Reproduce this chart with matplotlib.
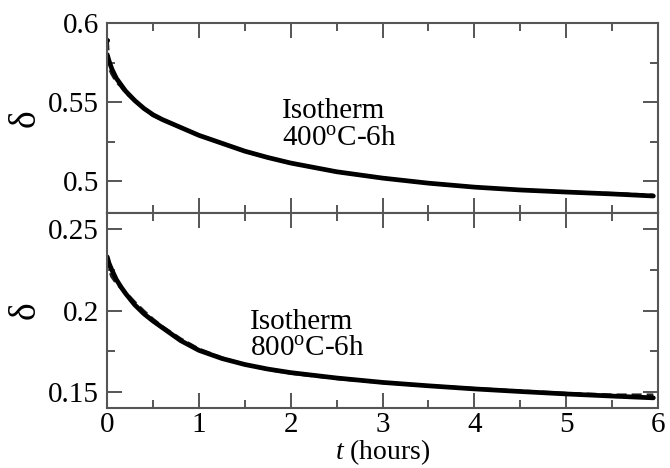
import numpy as np
import matplotlib
matplotlib.use('Agg')
import matplotlib.pyplot as plt
from matplotlib.ticker import MultipleLocator, FuncFormatter

plt.rcParams['font.family'] = ['Liberation Serif', 'DejaVu Serif']
plt.rcParams['mathtext.fontset'] = 'custom'
plt.rcParams['mathtext.rm'] = 'Liberation Serif'
plt.rcParams['mathtext.it'] = 'Liberation Serif:italic'

# time (hours)
t = [0, 0.02, 0.05, 0.1, 0.15, 0.2, 0.3, 0.4, 0.5, 0.6, 0.8, 1.0, 1.25, 1.5, 1.75,
     2.0, 2.5, 3.0, 3.5, 4.0, 4.5, 5.0, 5.5, 5.95]
# 400 C isotherm: model (solid) and measurement (dashed)
d400_fit = [0.580, 0.576, 0.571, 0.565, 0.561, 0.557, 0.551, 0.546, 0.542, 0.539, 0.534,
            0.529, 0.524, 0.519, 0.515, 0.5115, 0.506, 0.502, 0.4988, 0.4963, 0.4945,
            0.4932, 0.492, 0.4907]
d400_exp = [0.589, 0.572, 0.568, 0.563, 0.560, 0.556, 0.551, 0.546, 0.5415, 0.539, 0.534,
            0.529, 0.524, 0.519, 0.515, 0.5115, 0.506, 0.502, 0.4988, 0.4963, 0.4945,
            0.4932, 0.4922, 0.4912]
# 800 C isotherm
d800_fit = [0.233, 0.229, 0.225, 0.219, 0.2145, 0.2105, 0.2035, 0.198, 0.1935, 0.1895,
            0.1815, 0.1755, 0.1705, 0.1668, 0.164, 0.1618, 0.1585, 0.1558, 0.1537, 0.1518,
            0.1502, 0.1487, 0.1474, 0.1463]
d800_exp = [0.232, 0.226, 0.221, 0.217, 0.214, 0.211, 0.205, 0.1995, 0.1945, 0.190,
            0.1825, 0.1762, 0.1708, 0.1668, 0.1638, 0.1615, 0.1582, 0.1557, 0.1537, 0.152,
            0.1505, 0.149, 0.148, 0.148]

fig = plt.figure(figsize=(6.7, 4.68), dpi=100)
ax1 = fig.add_axes([0.16, 0.545, 0.822, 0.406])
ax2 = fig.add_axes([0.16, 0.128, 0.822, 0.417], sharex=ax1)

for ax, fit, exp, lim in [(ax1, d400_fit, d400_exp, (0.48, 0.6)),
                          (ax2, d800_fit, d800_exp, (0.14, 0.26))]:
    ax.plot(t, exp, color='#222222', ls='--', lw=2.4, dashes=(3, 1.5))
    ax.plot(t, fit, 'k-', lw=3.4, solid_capstyle='round')
    ax.set_ylim(*lim)
    ax.set_xlim(0, 6)
    ax.xaxis.set_major_locator(MultipleLocator(1))
    ax.xaxis.set_minor_locator(MultipleLocator(0.5))
    ax.yaxis.set_major_locator(MultipleLocator(0.05))
    ax.yaxis.set_minor_locator(MultipleLocator(0.025))
    ax.yaxis.set_major_formatter(FuncFormatter(lambda v, p: '%g' % round(v, 3)))
    ax.tick_params(which='both', direction='in', top=True, right=True,
                   labelsize=21, color='#555555', width=1.4, pad=6)
    ax.tick_params(axis='x', which='both', pad=3)
    ax.tick_params(which='major', length=11)
    ax.tick_params(which='minor', length=5.5)
    for s in ax.spines.values():
        s.set_color('#555555')
        s.set_linewidth(1.5)
    ax.set_ylabel('δ', fontsize=27)
    ax.yaxis.set_label_coords(-0.118, 0.5)

ax1.plot(t[:1], d400_exp[:1], 'k.', ms=5)
ax1.tick_params(labelbottom=False)
ax1.text(1.9, 0.5401, 'Isotherm', fontsize=21)
ax1.text(1.9, 0.5232, r'400$^{\rm o}$C-6h', fontsize=21)
ax2.text(1.56, 0.1887, 'Isotherm', fontsize=21)
ax2.text(1.56, 0.1727, r'800$^{\rm o}$C-6h', fontsize=21)
ax2.set_xlabel(r'$t$ (hours)', fontsize=20, labelpad=-1)

fig.savefig('out.png', dpi=100)
